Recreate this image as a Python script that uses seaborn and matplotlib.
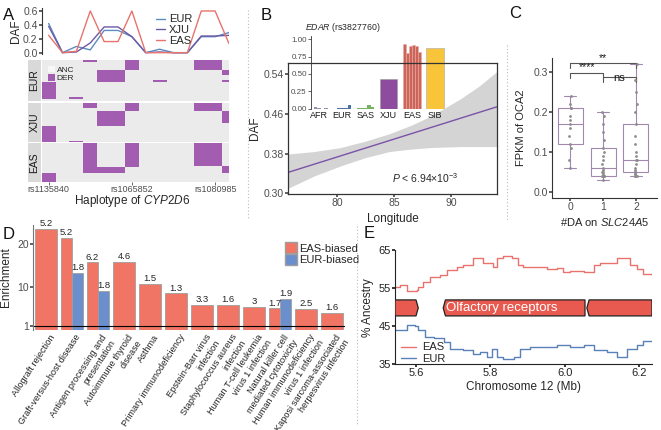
import numpy as np
import pandas as pd
import matplotlib
matplotlib.use("Agg")
import matplotlib.pyplot as plt
import seaborn as sns
from matplotlib.patches import Polygon, Patch
from matplotlib.lines import Line2D

# ---------------- Panel A data ----------------
snp_pos = list(range(14))
snp_tick_pos = [0, 6, 12]
snp_tick_lab = ["rs1135840", "rs1065852", "rs1080985"]
daf_eur = [0.42, 0.0, 0.09, 0.04, 0.32, 0.32, 0.23, 0.0, 0.05, 0.0, 0.0, 0.23, 0.23, 0.29]
daf_xju = [0.38, 0.0, 0.01, 0.14, 0.37, 0.37, 0.23, 0.0, 0.01, 0.0, 0.0, 0.24, 0.24, 0.25]
daf_eas = [0.25, 0.0, 0.02, 0.60, 0.16, 0.16, 0.60, 0.0, 0.0, 0.0, 0.0, 0.60, 0.60, 0.13]
hap_eur_freq = [0.04, 0.20, 0.12, 0.12, 0.05, 0.37, 0.06, 0.04]
hap_eur_der = [[3, 6, 11, 12], [6, 11, 12], [4, 5, 13], [4, 5], [4, 5, 8, 13], [0], [0, 2], []]
hap_xju_freq = [0.13, 0.08, 0.31, 0.08, 0.38, 0.02]
hap_xju_der = [[3, 6, 11, 12], [6, 11, 12], [4, 5, 13], [4, 5], [0], [0, 2]]
hap_eas_freq = [0.59, 0.03, 0.15, 0.23]
hap_eas_der = [[3, 6, 11, 12], [3, 6, 13], [3, 4, 5, 13], [0]]

# ---------------- Panel B data ----------------
inset_groups = ["AFR", "EUR", "SAS", "XJU", "EAS", "SIB"]
inset_vals = {
    "AFR": [0.0, 0.03, 0.005, 0.0, 0.005],
    "EUR": [0.0, 0.005, 0.005, 0.005, 0.05],
    "SAS": [0.005, 0.01, 0.005, 0.05, 0.02],
    "XJU": [0.43],
    "EAS": [0.93, 0.80, 0.90, 0.92, 0.90, 0.82],
    "SIB": [0.87],
}
fit_lon = [75.7, 94.0]
fit_daf = [0.342, 0.474]
band_lon = [75.7, 78.0, 80.3, 82.5, 84.6, 86.5, 88.2, 90.8, 92.4, 94.0]
band_lo = [0.310, 0.335, 0.355, 0.372, 0.384, 0.389, 0.392, 0.394, 0.394, 0.394]
band_hi = [0.379, 0.384, 0.392, 0.405, 0.420, 0.437, 0.455, 0.490, 0.515, 0.545]

# ---------------- Panel C data ----------------
fpkm_0 = [0.06, 0.08, 0.11, 0.12, 0.14, 0.16, 0.17, 0.18, 0.19, 0.21, 0.21, 0.22, 0.24]
fpkm_1 = [0.03, 0.04, 0.04, 0.04, 0.04, 0.04, 0.045, 0.05, 0.05, 0.055, 0.06, 0.07,
          0.08, 0.09, 0.10, 0.11, 0.13, 0.15, 0.17, 0.19, 0.20]
fpkm_2 = [0.04, 0.04, 0.04, 0.045, 0.05, 0.05, 0.055, 0.06, 0.07, 0.08, 0.08, 0.09,
          0.10, 0.12, 0.14, 0.17, 0.20, 0.22, 0.25, 0.28, 0.32]
sig_pairs = [(0, 1, "****"), (0, 2, "**"), (1, 2, "ns")]
sig_heights = [0.298, 0.322, 0.287]

# ---------------- Panel D data ----------------
d_cats = ["Allograft rejection", "Graft-versus-host disease",
          "Antigen processing and\npresentation", "Autoimmune thyroid\ndisease",
          "Asthma", "Primary immunodeficiency", "Epstein-Barr virus\ninfection",
          "Staphylococcus aureus\ninfection", "Human T-cell leukemia\nvirus 1 infection",
          "Natural killer cell\nmediated cytotoxicity",
          "Human immunodeficiency\nvirus 1 infection",
          "Kaposi sarcoma-associated\nherpesvirus infection"]
d_eas = [23.4, 21.3, 15.7, 15.8, 10.7, 8.5, 5.8, 5.8, 5.3, 5.0, 4.8, 4.0]
d_eas_lab = ["5.2", "5.2", "6.2", "4.6", "1.5", "1.3", "3.3", "1.6", "3", "1.7", "2.5", "1.6"]
d_eur = [None, 13.2, 9.1, None, None, None, None, None, None, 7.3, None, None]
d_eur_lab = ["", "1.8", "1.8", "", "", "", "", "", "", "1.9", "", ""]

# ---------------- Panel E data ----------------
eas_mb = [5.5435, 5.557, 5.575, 5.602, 5.606, 5.620, 5.638, 5.665, 5.683, 5.709, 5.727,
          5.754, 5.767, 5.781, 5.808, 5.817, 5.835, 5.857, 5.875, 5.888, 5.924, 5.951,
          5.978, 5.996, 6.014, 6.050, 6.077, 6.095, 6.121, 6.140, 6.157, 6.175, 6.193,
          6.211, 6.234]
eas_anc = [55.4, 55.8, 54.3, 54.5, 55.2, 56.7, 58.0, 58.5, 59.8, 60.6, 61.0,
           62.8, 62.8, 61.5, 60.6, 62.8, 63.5, 62.8, 61.0, 60.6, 60.6, 60.1,
           60.4, 59.3, 59.6, 59.3, 61.0, 61.7, 61.7, 62.8, 62.8, 61.0, 60.1,
           58.8, 58.5]
eur_mb = [5.5435, 5.557, 5.575, 5.597, 5.606, 5.625, 5.647, 5.674, 5.692, 5.727, 5.754,
          5.772, 5.790, 5.803, 5.817, 5.835, 5.862, 5.879, 5.906, 5.951, 5.978, 6.014,
          6.050, 6.077, 6.113, 6.140, 6.157, 6.166, 6.193, 6.211, 6.234]
eur_anc = [44.0, 44.0, 45.3, 45.0, 44.0, 42.2, 41.8, 40.9, 39.1, 38.7, 37.8,
           38.2, 36.9, 39.1, 36.9, 36.3, 36.9, 39.1, 39.5, 39.5, 40.0, 39.5,
           40.0, 38.7, 38.2, 36.9, 36.9, 39.1, 40.0, 41.1, 41.1]
gene_start = [5.5435, 5.673, 6.059]
gene_end = [5.606, 6.054, 6.234]
gene_strand = [1, -1, -1]

# ---------------- style ----------------
sns.set_theme(style="white")
plt.rcParams["font.family"] = ["Liberation Sans", "DejaVu Sans"]
plt.rcParams["mathtext.fontset"] = "custom"
plt.rcParams["mathtext.rm"] = "Liberation Sans"
plt.rcParams["mathtext.it"] = "Liberation Sans:italic"
plt.rcParams["axes.linewidth"] = 0.8

W, H = 661, 430
fig = plt.figure(figsize=(W / 100, H / 100), dpi=100)


def add_ax(l, t, r, b, **kw):
    return fig.add_axes([l / W, 1 - b / H, (r - l) / W, (b - t) / H], **kw)


def ftext(x, y, s, **kw):
    return fig.text(x / W, 1 - y / H, s, **kw)


TICK = "#4D4D4D"
pop_order = ["EUR", "XJU", "EAS"]
pop_colors = {"EUR": "#5B8DC0", "XJU": "#6E58A6", "EAS": "#E8736C"}
DER_COL = "#A35DB0"

# ======================= Panel A =======================
axA = add_ax(41.7, 8, 229, 54)
dfA = pd.DataFrame({"x": [p + 0.5 for p in snp_pos] * 3,
                    "daf": daf_eur + daf_xju + daf_eas,
                    "pop": ["EUR"] * 14 + ["XJU"] * 14 + ["EAS"] * 14})
sns.lineplot(data=dfA, x="x", y="daf", hue="pop", hue_order=pop_order,
             palette=pop_colors, lw=1.0, ax=axA)
axA.set_xlim(0, 13.5)
axA.set_ylim(-0.019, 0.643)
axA.set_xticks([])
axA.set_yticks([0, 0.2, 0.4, 0.6])
axA.set_yticklabels(["0.0", "0.2", "0.4", "0.6"])
axA.tick_params(axis="y", length=2, labelsize=7.5, colors=TICK, pad=1, left=True)
for s in ["top", "right", "bottom"]:
    axA.spines[s].set_visible(False)
axA.spines["left"].set_color("#333333")
axA.set_xlabel("")
axA.set_ylabel("DAF", fontsize=8.5, labelpad=1)
h, l = axA.get_legend_handles_labels()
axA.legend(h, l, frameon=False, loc="upper left", bbox_to_anchor=(0.58, 0.98),
           fontsize=8, handlelength=0.8, handletextpad=0.4, labelspacing=0.05,
           borderpad=0)
axA.set_facecolor("none")

facets = [("EUR", 60, 101, hap_eur_freq, hap_eur_der),
          ("XJU", 102.5, 141.5, hap_xju_freq, hap_xju_der),
          ("EAS", 143, 182, hap_eas_freq, hap_eas_der)]
for i, (name, t, b, freqs, ders) in enumerate(facets):
    ax = add_ax(41.7, t, 229, b)
    ax.set_facecolor("#EBEBEB")
    cum = 0.0
    for f, der in zip(freqs, ders):
        if der:
            ax.bar([k + 0.5 for k in der], [f] * len(der), bottom=cum, width=1.0,
                   color=DER_COL, linewidth=0)
        cum += f
    ax.set_xlim(0, 13.5)
    ax.set_ylim(1, 0)
    ax.set_yticks([])
    for s in ax.spines.values():
        s.set_visible(False)
    if i == 2:
        ax.set_xticks([k + 0.5 for k in snp_tick_pos])
        ax.set_xticklabels(snp_tick_lab)
        ax.tick_params(axis="x", length=2, labelsize=6.5, colors=TICK, pad=0.5,
                       bottom=True, width=0.6)
    else:
        ax.set_xticks([])
    if i == 0:
        ax.legend(handles=[Patch(facecolor="#F7F7F7", edgecolor="none", label="ANC"),
                           Patch(facecolor=DER_COL, edgecolor="none", label="DER")],
                  frameon=False, loc="upper left", bbox_to_anchor=(0.0, 1.0),
                  fontsize=6, handlelength=0.9, handleheight=0.8,
                  handletextpad=0.2, labelspacing=0.05, borderpad=0.2)
    st = add_ax(28, t, 41.2, b)
    st.set_facecolor("#D9D9D9")
    st.set_xticks([])
    st.set_yticks([])
    for s in st.spines.values():
        s.set_visible(False)
    st.text(0.5, 0.5, name, rotation=90, ha="center", va="center",
            fontsize=7.5, color="#1A1A1A", transform=st.transAxes)

ftext(132, 201, r"Haplotype of $\mathit{CYP2D6}$", ha="center", va="center",
      fontsize=8.5)

# ======================= Panel B =======================
# main regression panel (bottom layer)
axB = add_ax(288, 63, 497, 194.3)
axB.set_zorder(1)
axB.fill_between(band_lon, band_lo, band_hi, color="#D4D4D4", linewidth=0)
sns.lineplot(x=fit_lon, y=fit_daf, color="#7B52A8", lw=1.0, ax=axB)
axB.set_xlim(75.7, 94.0)
axB.set_ylim(0.298, 0.562)
axB.set_xticks([80, 85, 90])
axB.set_yticks([0.30, 0.38, 0.46, 0.54])
axB.set_yticklabels(["0.30", "0.38", "0.46", "0.54"])
axB.tick_params(length=2, labelsize=7.5, colors=TICK, pad=1, left=True, bottom=True)
for s in axB.spines.values():
    s.set_visible(False)
axB.set_ylabel("DAF", fontsize=8.5, labelpad=2)
axB.set_xlabel("Longitude", fontsize=8.5, labelpad=3)
axB.text(0.655, 0.125, r"$P$ < 6.94×10$^{-3}$", transform=axB.transAxes,
         ha="center", va="center", fontsize=7.5)

# inset bar chart (middle layer)
axIn = add_ax(311, 35.8, 445, 108.7)
axIn.set_zorder(2)
axIn.set_facecolor("none")
inset_colors = {"AFR": "#9490AC", "EUR": "#4C70A8", "SAS": "#77B262",
                "XJU": "#8D4C9E", "EAS": "#CB6459", "SIB": "#F8C43A"}
inset_edges = {"AFR": "none", "EUR": "none", "SAS": "none", "XJU": "#9A9A9A",
               "EAS": "#E9A9A2", "SIB": "#A8A8A8"}
gw = 0.75
for gi, g in enumerate(inset_groups):
    vals = inset_vals[g]
    n = len(vals)
    bw = gw / n
    xs = [gi - gw / 2 + bw * (j + 0.5) for j in range(n)]
    axIn.bar(xs, vals, width=bw, color=inset_colors[g], edgecolor=inset_edges[g],
             linewidth=0.4)
axIn.set_xlim(-0.35, 5.43)
axIn.set_ylim(0, 1.05)
axIn.set_yticks([0, 0.25, 0.5, 0.75, 1.0])
axIn.set_yticklabels(["0.00", "0.25", "0.50", "0.75", "1.00"])
axIn.set_xticks(range(len(inset_groups)))
axIn.set_xticklabels(inset_groups)
axIn.tick_params(axis="y", length=2, labelsize=5.8, colors=TICK, pad=1, left=True, width=0.6)
axIn.tick_params(axis="x", length=0, labelsize=6.5, colors="#1A1A1A", pad=2)
for s in ["top", "right", "bottom"]:
    axIn.spines[s].set_visible(False)
axIn.spines["left"].set_color("#333333")
axIn.spines["left"].set_linewidth(0.6)
ftext(343, 28, r"$\mathit{EDAR}$ (rs3827760)", ha="center", va="center", fontsize=6.3)

# panel border (top layer)
axBb = add_ax(288, 63, 497, 194.3)
axBb.set_zorder(3)
axBb.set_facecolor("none")
axBb.set_xticks([])
axBb.set_yticks([])
for s in axBb.spines.values():
    s.set_visible(True)
    s.set_color("#333333")
    s.set_linewidth(0.9)

# ======================= Panel C =======================
axC = add_ax(552, 58, 657, 198)
dfC = pd.DataFrame({"grp": ["0"] * len(fpkm_0) + ["1"] * len(fpkm_1) + ["2"] * len(fpkm_2),
                    "fpkm": fpkm_0 + fpkm_1 + fpkm_2})
sns.boxplot(data=dfC, x="grp", y="fpkm", color="white", linecolor="#A387B0",
            width=0.76, fliersize=0, linewidth=0.8, ax=axC)
sns.stripplot(data=dfC, x="grp", y="fpkm", color="#8C8C8C", size=2, jitter=0.04,
              ax=axC, zorder=3)
for (a, b, lab), hgt in zip(sig_pairs, sig_heights):
    axC.plot([a, a, b, b], [hgt - 0.012, hgt, hgt, hgt - 0.012], color="#555555", lw=0.8)
    axC.text((a + b) / 2, hgt + 0.001 if lab != "ns" else hgt - 0.003, lab,
             ha="center", va="bottom" if lab != "ns" else "center",
             fontsize=7.5 if lab != "ns" else 8, color="#1A1A1A")
axC.set_xlim(-0.55, 2.64)
axC.set_ylim(-0.015, 0.335)
axC.set_yticks([0, 0.1, 0.2, 0.3])
axC.set_yticklabels(["0.0", "0.1", "0.2", "0.3"])
axC.tick_params(length=2, labelsize=7.5, colors=TICK, pad=1, left=True, bottom=True)
for s in ["top", "right"]:
    axC.spines[s].set_visible(False)
for s in ["left", "bottom"]:
    axC.spines[s].set_color("#333333")
axC.set_ylabel("FPKM of OCA2", fontsize=8, labelpad=5)
axC.set_xlabel(r"#DA on $\mathit{SLC24A5}$", fontsize=8, labelpad=3)

# ======================= Panel D =======================
axD = add_ax(33, 225, 345, 330)
EAS_COL, EUR_COL = "#F07565", "#6B8FCC"
rows = []
for i in range(len(d_cats)):
    has_eur = d_eur[i] is not None
    rows.append(dict(pos=i - (0.2125 if has_eur else 0), val=d_eas[i],
                     w=0.425 if has_eur else 0.85, col=EAS_COL, lab=d_eas_lab[i]))
    if has_eur:
        rows.append(dict(pos=i + 0.2125, val=d_eur[i], w=0.425, col=EUR_COL,
                         lab=d_eur_lab[i]))
dfD = pd.DataFrame(rows)
axD.bar(dfD["pos"], dfD["val"], width=dfD["w"], color=dfD["col"],
        edgecolor="#9E9E9E", linewidth=0.6)
for _, r in dfD.iterrows():
    axD.text(r["pos"], r["val"] + 0.2, r["lab"], ha="center", va="bottom", fontsize=6.8)
axD.axhline(1, color="black", lw=0.8)
axD.set_xlim(-0.5, 11.5)
axD.set_ylim(0, 24.4)
axD.set_yticks([1, 10, 20])
axD.set_xticks([i + 0.12 for i in range(len(d_cats))])
axD.set_xticklabels(d_cats, rotation=57, ha="right", va="top", rotation_mode="anchor",
                    fontsize=6.6, multialignment="right")
axD.tick_params(axis="y", length=2, labelsize=7.5, colors=TICK, pad=1, left=True)
axD.tick_params(axis="x", length=0, pad=2, colors="#222222")
for s in ["top", "right", "bottom"]:
    axD.spines[s].set_visible(False)
axD.spines["left"].set_color("#777777")
axD.set_ylabel("Enrichment", fontsize=8.5, labelpad=4)
axD.legend(handles=[Patch(facecolor=EAS_COL, edgecolor="#9E9E9E", label="EAS-biased"),
                    Patch(facecolor=EUR_COL, edgecolor="#9E9E9E", label="EUR-biased")],
           frameon=False, loc="upper left", bbox_to_anchor=(0.79, 0.89),
           fontsize=8, handlelength=1.1, handleheight=1.2, handletextpad=0.2,
           labelspacing=0.0, borderpad=0)

# ======================= Panel E =======================
axE = add_ax(395, 250, 652, 364.3)
dfE = pd.DataFrame({"mb": eas_mb + eur_mb, "anc": eas_anc + eur_anc,
                    "pop": ["EAS"] * len(eas_mb) + ["EUR"] * len(eur_mb)})
sns.lineplot(data=dfE, x="mb", y="anc", hue="pop", hue_order=["EAS", "EUR"],
             palette={"EAS": "#E8736C", "EUR": "#5A80B8"}, drawstyle="steps-post",
             lw=1.0, ax=axE, estimator=None)
y_lo, y_hi, y_mid = 47.7, 51.9, 49.8
hd = 0.006
for s0, e0, sd in zip(gene_start, gene_end, gene_strand):
    if sd > 0:
        pts = [(s0, y_lo), (e0 - hd, y_lo), (e0, y_mid), (e0 - hd, y_hi), (s0, y_hi)]
    else:
        pts = [(e0, y_lo), (s0 + hd, y_lo), (s0, y_mid), (s0 + hd, y_hi), (e0, y_hi)]
    axE.add_patch(Polygon(pts, closed=True, facecolor="#E85A50", edgecolor="#222222",
                          linewidth=0.9, zorder=3))
axE.text(5.831, y_mid, "Olfactory receptors", color="white", ha="center",
         va="center", fontsize=9.5, zorder=4)
axE.set_xlim(5.5435, 6.234)
axE.set_ylim(35, 65)
axE.set_xticks([5.6, 5.8, 6.0, 6.2])
axE.set_yticks([35, 45, 55, 65])
axE.tick_params(length=2, labelsize=8, colors="#222222", pad=1, left=True, bottom=True)
for s in ["top", "right"]:
    axE.spines[s].set_visible(False)
for s in ["left", "bottom"]:
    axE.spines[s].set_color("#222222")
axE.set_xlabel("Chromosome 12 (Mb)", fontsize=8.5, labelpad=2)
axE.set_ylabel("% Ancestry", fontsize=8.5, labelpad=3)
h, l = axE.get_legend_handles_labels()
axE.legend(h, l, frameon=False, loc="upper left", bbox_to_anchor=(0.0, 0.24),
           fontsize=8, handlelength=1.4, handletextpad=0.5, labelspacing=0.1,
           borderpad=0)

# ======================= separators & panel letters =======================
for x0, y0, y1 in [(248, 10, 220), (507, 45, 220), (357, 226, 425)]:
    fig.add_artist(Line2D([x0 / W, x0 / W], [1 - y0 / H, 1 - y1 / H],
                          color="#BBBBBB", lw=0.8, ls=(0, (1, 2))))
for lab, x, y in [("A", 9, 15), ("B", 266, 15), ("C", 515, 14), ("D", 9, 234), ("E", 369, 233)]:
    ftext(x, y, lab, fontsize=12, ha="center", va="center", color="#111111")

fig.savefig("out.png", dpi=100)
